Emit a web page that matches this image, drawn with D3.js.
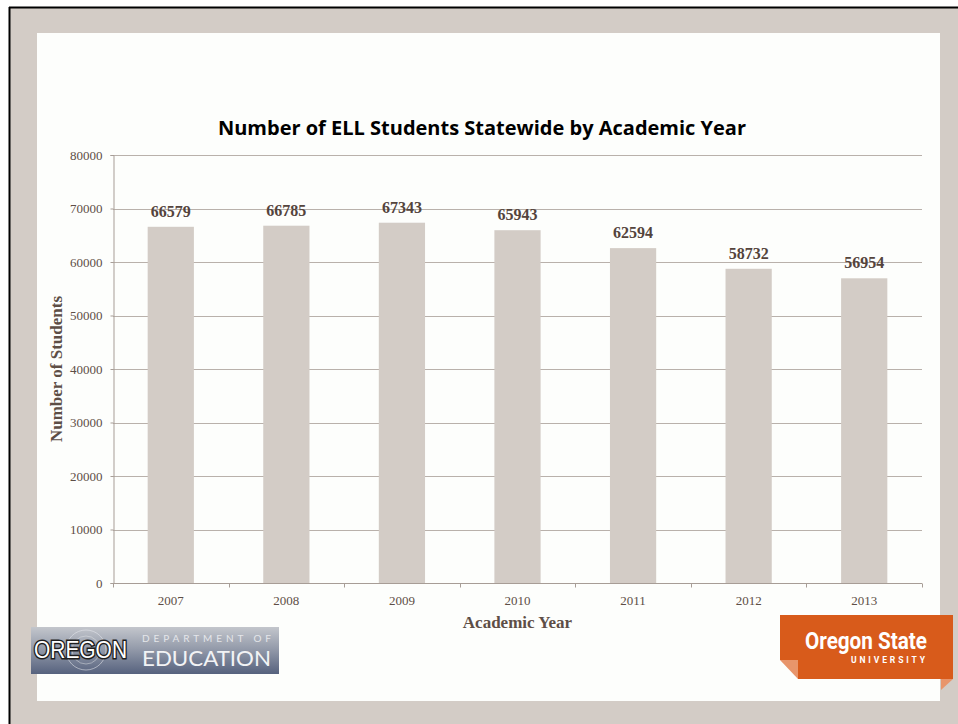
<!DOCTYPE html>
<html>
<head>
<meta charset="utf-8">
<script src="https://cdn.jsdelivr.net/npm/d3@7"></script>
<style>
html,body{margin:0;padding:0;background:#fff;}
svg{display:block;}
</style>
</head>
<body>
<svg id="chart" width="958" height="724"></svg>
<script>
// ---- data ----
const years = ["2007", "2008", "2009", "2010", "2011", "2012", "2013"];
const students = [66579, 66785, 67343, 65943, 62594, 58732, 56954];
const yTicks = [0, 10000, 20000, 30000, 40000, 50000, 60000, 70000, 80000];
const titleText = "Number of ELL Students Statewide by Academic Year";
const xTitle = "Academic Year";
const yTitle = "Number of Students";

const svg = d3.select("#chart");
const beige = "#d3ccc6";
const textCol = "#5d4e46";

// frame
svg.append("rect").attr("x", 0).attr("y", 0).attr("width", 958).attr("height", 724).attr("fill", "#fff");
svg.append("rect").attr("x", 10).attr("y", 8).attr("width", 948).attr("height", 716).attr("fill", beige);
svg.append("line").attr("x1", 9).attr("x2", 958).attr("y1", 7.5).attr("y2", 7.5).attr("stroke", "#000").attr("stroke-width", 2);
svg.append("line").attr("x1", 9.5).attr("x2", 9.5).attr("y1", 7).attr("y2", 724).attr("stroke", "#000").attr("stroke-width", 2);
svg.append("rect").attr("x", 37).attr("y", 33).attr("width", 903).attr("height", 668).attr("fill", "#fdfefc");

// plot area
const pLeft = 113, pRight = 922, pTop = 155, pBottom = 583;
const x = d3.scaleBand().domain(years).range([pLeft, pRight]).paddingInner(0.6).paddingOuter(0.3);
const y = d3.scaleLinear().domain([0, 80000]).range([pBottom, pTop]);

// grid lines
svg.append("g").selectAll("line").data(yTicks.filter(d => d > 0)).join("line")
  .attr("x1", pLeft).attr("x2", pRight)
  .attr("y1", d => Math.round(y(d)) + 0.5).attr("y2", d => Math.round(y(d)) + 0.5)
  .attr("stroke", "#b9b1ab").attr("stroke-width", 1);

// y axis
const yAxis = svg.append("g").attr("transform", `translate(${pLeft + 0.5},0)`)
  .call(d3.axisLeft(y).tickValues(yTicks).tickSize(3).tickPadding(8).tickFormat(d3.format("d")));
yAxis.selectAll("path,line").attr("stroke", "#a79d96");
yAxis.selectAll("text").attr("font-family", "'Liberation Serif', serif").attr("font-size", 13).attr("fill", textCol);

// bars
svg.append("g").selectAll("rect").data(students).join("rect")
  .attr("x", (d, i) => x(years[i]))
  .attr("width", x.bandwidth())
  .attr("y", d => y(d))
  .attr("height", d => pBottom - y(d))
  .attr("fill", beige);

// value labels
svg.append("g").selectAll("text").data(students).join("text")
  .attr("x", (d, i) => x(years[i]) + x.bandwidth() / 2)
  .attr("y", d => y(d) - 10)
  .attr("text-anchor", "middle")
  .attr("font-family", "'Liberation Serif', serif")
  .attr("font-weight", "bold").attr("font-size", 16)
  .attr("fill", "#54443c")
  .text(d => d);

// x axis
const xAxisG = svg.append("g").attr("transform", `translate(0,${pBottom + 0.5})`);
xAxisG.append("line").attr("x1", pLeft).attr("x2", pRight).attr("stroke", "#a79d96");
const boundaries = d3.range(years.length + 1).map(i => pLeft + i * (pRight - pLeft) / years.length);
xAxisG.selectAll("line.tk").data(boundaries).join("line").attr("class", "tk")
  .attr("x1", d => Math.round(d) + 0.5).attr("x2", d => Math.round(d) + 0.5)
  .attr("y1", 0).attr("y2", 4).attr("stroke", "#a79d96");
xAxisG.selectAll("text").data(years).join("text")
  .attr("x", d => x(d) + x.bandwidth() / 2).attr("y", 21)
  .attr("text-anchor", "middle")
  .attr("font-family", "'Liberation Serif', serif").attr("font-size", 13).attr("fill", textCol)
  .text(d => d);

// titles
svg.append("text").attr("x", 482).attr("y", 135).attr("text-anchor", "middle")
  .attr("font-family", "'Open Sans', sans-serif").attr("font-weight", "bold").attr("font-size", 20)
  .attr("fill", "#000").text(titleText);
svg.append("text").attr("x", (pLeft + pRight) / 2).attr("y", 628).attr("text-anchor", "middle")
  .attr("font-family", "'Liberation Serif', serif").attr("font-weight", "bold").attr("font-size", 17)
  .attr("fill", textCol).text(xTitle);
svg.append("text").attr("transform", "translate(62,369) rotate(-90)").attr("text-anchor", "middle")
  .attr("font-family", "'Liberation Serif', serif").attr("font-weight", "bold").attr("font-size", 16.5)
  .attr("textLength", 146).attr("lengthAdjust", "spacingAndGlyphs")
  .attr("fill", textCol).text(yTitle);

// ---- Oregon Department of Education logo ----
const defs = svg.append("defs");
const grad = defs.append("linearGradient").attr("id", "odeGrad").attr("x1", 0).attr("y1", 0).attr("x2", 0).attr("y2", 1);
grad.append("stop").attr("offset", "0%").attr("stop-color", "#c3c6cc");
grad.append("stop").attr("offset", "45%").attr("stop-color", "#959cab");
grad.append("stop").attr("offset", "100%").attr("stop-color", "#56627e");
const ode = svg.append("g");
ode.append("rect").attr("x", 31).attr("y", 627).attr("width", 248).attr("height", 47).attr("fill", "url(#odeGrad)");
ode.append("circle").attr("cx", 86).attr("cy", 650).attr("r", 20).attr("fill", "none").attr("stroke", "#e6e8ec").attr("stroke-opacity", 0.55);
ode.append("circle").attr("cx", 86).attr("cy", 650).attr("r", 14).attr("fill", "none").attr("stroke", "#e6e8ec").attr("stroke-opacity", 0.45);
ode.append("text").attr("x", 34).attr("y", 658).attr("font-family", "'Liberation Sans', sans-serif").attr("font-size", 24)
  .attr("textLength", 93).attr("lengthAdjust", "spacingAndGlyphs")
  .attr("fill", "#fff").attr("stroke", "#1e1e1e").attr("stroke-width", 3).attr("paint-order", "stroke")
  .text("OREGON");
ode.append("text").attr("x", 142).attr("y", 642).attr("font-family", "'Lato', sans-serif").attr("font-size", 10)
  .attr("textLength", 129).attr("lengthAdjust", "spacing")
  .attr("fill", "#e4e6ea").text("DEPARTMENT OF");
ode.append("text").attr("x", 142).attr("y", 666).attr("font-family", "'Lato', sans-serif").attr("font-size", 21)
  .attr("textLength", 129).attr("lengthAdjust", "spacingAndGlyphs")
  .attr("fill", "#f2f3f5").text("EDUCATION");

// ---- Oregon State University logo ----
const osu = svg.append("g");
const orange = "#d85b1b";
const lightOrange = "#e8956b";
osu.append("path").attr("d", "M780,615 L953,615 L953,679 L798,679 L798,660 L780,660 Z").attr("fill", orange);
osu.append("path").attr("d", "M780,660 L798,660 L798,679 Z").attr("fill", lightOrange);
osu.append("path").attr("d", "M941,679 L953,679 L941,690 Z").attr("fill", lightOrange);
osu.append("text").attr("x", 805).attr("y", 649).attr("font-family", "'Roboto', 'Liberation Sans', sans-serif")
  .attr("font-weight", "bold").attr("font-size", 23)
  .attr("textLength", 122).attr("lengthAdjust", "spacingAndGlyphs")
  .attr("fill", "#fff").text("Oregon State");
osu.append("text").attr("x", 851).attr("y", 663).attr("font-family", "'Roboto', 'Liberation Sans', sans-serif")
  .attr("font-weight", "bold").attr("font-size", 8.5)
  .attr("textLength", 74).attr("lengthAdjust", "spacing")
  .attr("fill", "#fff").text("UNIVERSITY");
</script>
</body>
</html>
